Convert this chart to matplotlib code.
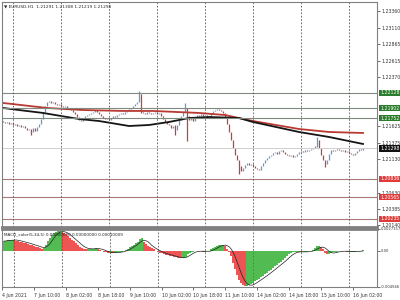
import matplotlib.pyplot as plt
import numpy as np
import pandas as pd
from matplotlib.transforms import blended_transform_factory

# EURUSD H1 closes, bar 0 = 4 Jun 18:00
close = [1.21692, 1.21677, 1.21692, 1.21662, 1.21677, 1.21647, 1.21662, 1.21632, 1.21647, 1.21617,
         1.21632, 1.21602, 1.21572, 1.21587, 1.21542, 1.21602, 1.21557, 1.21617, 1.21662, 1.21737,
         1.21843, 1.21933, 1.21993, 1.22008, 1.21978, 1.21993, 1.21963, 1.21948, 1.21963, 1.21933,
         1.21918, 1.21933, 1.21903, 1.21888, 1.21872, 1.21843, 1.21812, 1.21767, 1.21722, 1.21707,
         1.21752, 1.21782, 1.21797, 1.21812, 1.21828, 1.21843, 1.21872, 1.21843, 1.21812, 1.21782,
         1.21752, 1.21737, 1.21752, 1.21722, 1.21752, 1.21782, 1.21767, 1.21797, 1.21812, 1.21828,
         1.21812, 1.21843, 1.21858, 1.21888, 1.21903, 1.21933, 1.21963, 1.21993, 1.22008, 1.21843,
         1.21828, 1.21812, 1.21843, 1.21828, 1.21812, 1.21828, 1.21843, 1.21812, 1.21828, 1.21782,
         1.21737, 1.21692, 1.21662, 1.21647, 1.21602, 1.21632, 1.21572, 1.21647, 1.21722, 1.21782,
         1.21843, 1.21903, 1.21782, 1.21722, 1.21752, 1.21707, 1.21767, 1.21797, 1.21782, 1.21812,
         1.21782, 1.21797, 1.21767, 1.21782, 1.21828, 1.21858, 1.21872, 1.21888, 1.21872, 1.21858,
         1.21828, 1.21752, 1.21662, 1.21542, 1.21422, 1.21302, 1.21197, 1.21121, 1.21031, 1.20956,
         1.21001, 1.21046, 1.21076, 1.21046, 1.21061, 1.21031, 1.21001, 1.20986, 1.20971, 1.21031,
         1.21076, 1.21121, 1.21151, 1.21181, 1.21197, 1.21227, 1.21242, 1.21212, 1.21257, 1.21271,
         1.21242, 1.21212, 1.21197, 1.21181, 1.21197, 1.21167, 1.21181, 1.21212, 1.21242, 1.21257,
         1.21242, 1.21271, 1.21257, 1.21271, 1.21287, 1.21302, 1.21332, 1.21422, 1.21302, 1.21197,
         1.21121, 1.21061, 1.21121, 1.21212, 1.21271, 1.21257, 1.21271, 1.21287, 1.21271, 1.21257,
         1.21271, 1.21242, 1.21257, 1.21227, 1.21212, 1.21197, 1.21227, 1.21257, 1.21287, 1.21271,
         1.21298]
first_open = 1.21700
# long wicks: bar -> (high, low)
wicks = {14: (1.21560, 1.21497), 68: (1.22158, 1.21990), 69: (1.22120, 1.21830),
         86: (1.21640, 1.21497), 91: (1.21978, 1.21840), 92: (1.21900, 1.21407),
         118: (1.21040, 1.20911), 157: (1.21467, 1.21320), 161: (1.21120, 1.21016)}

# moving averages (sampled)
red_ma_x = [0, 22, 40, 60, 75, 98, 111, 125, 148, 163, 180]
red_ma = [1.21978, 1.21903, 1.21872, 1.21858, 1.21858, 1.21828, 1.21797, 1.21707, 1.21587, 1.21542, 1.21527]
black_ma_x = [0, 8, 20, 38, 48, 63, 73, 83, 93, 103, 118, 125, 148, 163, 180]
black_ma = [1.21903, 1.21872, 1.21828, 1.21737, 1.21707, 1.21632, 1.21647, 1.21692, 1.21752, 1.21767,
            1.21752, 1.21692, 1.21542, 1.21467, 1.21362]

# MACD histogram (x1e-4)
macd = [11.9, 12.6, 13.2, 13.8, 13.8, 13.2, 12.6, 11.9, 11.3, 10.7, 10.0, 9.4, 8.8, 7.5, 6.9, 6.3,
        5.0, 4.4, 3.8, 2.5, 3.8, 7.5, 12.6, 16.3, 20.1, 22.6, 23.8, 24.5, 24.5, 23.8, 22.6, 20.7,
        18.8, 16.3, 13.8, 11.9, 9.4, 6.9, 5.0, 3.8, 2.5, 1.9, 1.9, 2.5, 2.5, 2.5, 3.1, 2.5,
        1.3, 0.0, -1.3, -1.9, -2.5, -2.5, -3.1, -2.5, -2.5, -1.9, -1.3, -1.3, 0.0, 1.3, 2.5, 4.4,
        6.3, 7.5, 9.4, 11.3, 15.1, 16.3, 11.3, 8.8, 6.3, 4.4, 3.1, 1.9, 0.0, -1.3, -2.5, -3.1,
        -3.8, -5.0, -5.6, -6.3, -6.9, -7.5, -8.2, -8.8, -9.4, -9.4, -8.8, -7.5, -3.8, -2.5, -1.3, -1.3,
        -0.6, -0.6, -0.6, -0.6, -1.3, -1.3, -0.6, 0.0, 1.9, 3.8, 5.0, 6.3, 6.9, 7.5, 7.5, 6.3,
        2.5, -1.3, -6.3, -15.1, -22.6, -30.1, -36.4, -40.2, -43.3, -44.6, -44.6, -43.3, -41.4, -40.2, -38.3, -36.4,
        -35.1, -33.3, -31.4, -29.5, -27.6, -25.7, -23.8, -21.3, -19.5, -17.6, -15.7, -13.8, -11.3, -8.8, -6.3, -4.4,
        -2.5, -1.9, -1.3, -1.3, -1.3, -1.9, -1.9, -1.3, -1.3, -0.6, 0.0, 1.3, 3.1, 5.6, 6.3, 5.0,
        1.9, -2.5, -4.4, -3.8, -2.5, -1.9, -1.3, -1.3, -0.6, -0.6, -0.6, -0.6, -1.3, -1.3, -1.3, -1.3,
        -1.3, -0.6, -0.6, 0.0, 0.6]

levels_green = [1.22128, 1.21902, 1.21752]
levels_red = [1.20836, 1.20565, 1.20235]
last_price = 1.21298
price_ticks = [1.23360, 1.23110, 1.22865, 1.22615, 1.22370, 1.21625, 1.21375, 1.21130, 1.20630, 1.20385, 1.20140]
date_labels = ['4 Jun 2021', '7 Jun 10:00', '8 Jun 02:00', '8 Jun 18:00', '9 Jun 10:00', '10 Jun 02:00',
               '10 Jun 18:00', '11 Jun 10:00', '14 Jun 02:00', '14 Jun 18:00', '15 Jun 10:00', '16 Jun 02:00']
grid_bars = [5, 29, 53, 77, 101, 125, 149, 173]

fs = 3.3  # small terminal font

n = len(close)
idx = np.arange(n)
c = np.array(close)
o = np.concatenate([[first_open], c[:-1]])
hi = np.maximum(o, c)
lo = np.minimum(o, c)
for k, (h, l) in wicks.items():
    hi[k] = max(hi[k], h)
    lo[k] = min(lo[k], l)

fig = plt.figure(figsize=(4, 3), dpi=100)
ax = fig.add_axes([2 / 400, 1 - 227 / 300, 375 / 400, 225 / 300])
ax2 = fig.add_axes([2 / 400, 1 - 287 / 300, 375 / 400, 58 / 300])

up_col, dn_col = '#5b9bd5', '#d03a3a'
cols = [up_col if c[i] >= o[i] else dn_col for i in idx]
ax.vlines(idx, lo, hi, colors=cols, lw=0.9)

ax.plot(red_ma_x, red_ma, color='#b83a32', lw=1.3)
ax.plot(black_ma_x, black_ma, color='#151515', lw=1.3)

for lv in levels_green:
    ax.axhline(lv, color='#7d8a7d', lw=0.8)
for lv in levels_red:
    ax.axhline(lv, color='#a87a7a', lw=0.8)
ax.axhline(last_price, color='#cfcfcf', lw=0.7)

for g in grid_bars:
    ax.axvline(g, color='#555555', lw=0.6, ls=(0, (2, 2)))
    ax2.axvline(g, color='#555555', lw=0.6, ls=(0, (2, 2)))

ax.set_xlim(-0.5, 187)
ax.set_ylim(1.201143, 1.234952)
ax.set_xticks([])
ax.yaxis.tick_right()
ax.set_yticks(price_ticks)
ax.set_yticklabels([f'{p:.5f}' for p in price_ticks])
ax.tick_params(axis='y', labelsize=fs, colors='#333333', length=2, width=0.5, pad=1)

tr = blended_transform_factory(ax.transAxes, ax.transData)
boxes = [(lv, '#2a7d2a') for lv in levels_green] + [(last_price, '#111111')] + [(lv, '#e03a3a') for lv in levels_red]
for lv, bc in boxes:
    ax.text(1.008, lv, f'{lv:.5f}', transform=tr, fontsize=fs, color='white', va='center', ha='left',
            bbox=dict(boxstyle='square,pad=0.2', fc=bc, ec='none'), clip_on=False)

ax.text(0.005, 0.988, '\u25bc EURUSD,H1  1.21291 1.21308 1.21219 1.21298', transform=ax.transAxes,
        fontsize=3.1, va='top', ha='left', color='#222222')

for sp in ax.spines.values():
    sp.set_color('#808080')
    sp.set_linewidth(0.8)
ax.spines['bottom'].set_linewidth(2)

# MACD panel
h = np.array(macd) * 1e-4
d = np.diff(np.concatenate([[h[0]], h]))
mcols = ['#1ea81e' if v >= 0 else '#e82020' for v in d]
ax2.vlines(idx, 0, h, colors=mcols, lw=1.1)
sig = pd.Series(h).rolling(5, min_periods=1).mean()
ax2.plot(idx, sig, color='#202020', lw=0.5)

ax2.set_xlim(-0.5, 187)
ax2.set_ylim(-0.004566, 0.0027157)
ax2.yaxis.tick_right()
ax2.set_yticks([0.0027157, 0.0, -0.004566])
ax2.set_yticklabels(['0.0027157', '0.00', '-0.004566'])
ax2.tick_params(axis='y', labelsize=2.7, colors='#333333', length=2, width=0.5, pad=1)
ax2.set_xticks(np.arange(len(date_labels)) * 16 - 1)
ax2.set_xticklabels(date_labels, ha='left')
ax2.tick_params(axis='x', labelsize=fs, colors='#333333', length=2, width=0.5, pad=2)
ax2.text(0.005, 0.95, 'MACD_color(5,34,5) 0.00000000 0.00000000 0.00010009', transform=ax2.transAxes,
         fontsize=3.0, va='top', ha='left', color='#222222')
for sp in ax2.spines.values():
    sp.set_color('#808080')
    sp.set_linewidth(0.8)
ax2.spines['top'].set_linewidth(2)

fig.savefig('out.png', dpi=100)
